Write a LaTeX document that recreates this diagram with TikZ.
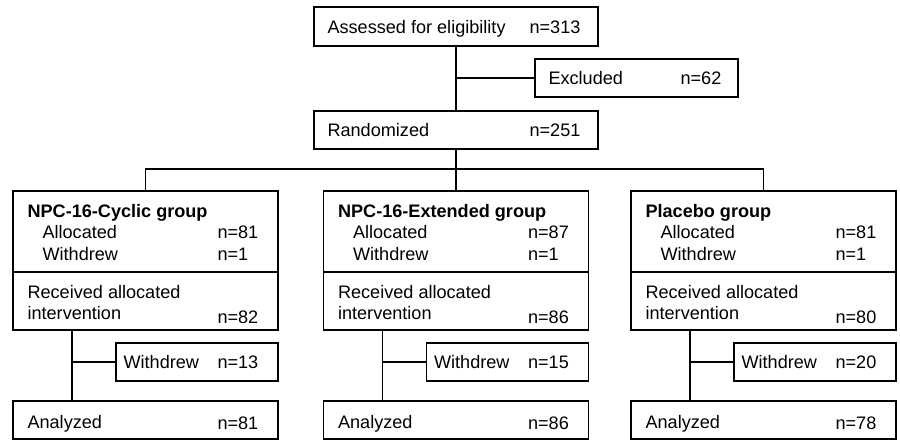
\documentclass[tikz,border=0pt]{standalone}
\usepackage{fontspec}
\setmainfont{Liberation Sans}
\begin{document}
\begin{tikzpicture}[x=1pt,y=-1pt,line width=1.1pt,
  box/.style={draw,inner sep=0pt,outer sep=0pt,anchor=north west},
  txt/.style={inner sep=0pt,anchor=base west},
  every node/.append style={font=\fontsize{18.1}{21}\selectfont}]
\useasboundingbox (0,0) rectangle (900,441);
% enrolment
\node[box,minimum width=284,minimum height=39] (assess) at (314,7) {};
\node[txt] (assess-t) at (327,33.5) {Assessed for eligibility};
\node[txt] (assess-n) at (529,33.5) {n=313};
\node[box,minimum width=203,minimum height=38] (excl) at (535,59) {};
\node[txt] (excl-t) at (548,85) {Excluded};
\node[txt] (excl-n) at (680,85) {n=62};
\node[box,minimum width=284,minimum height=38] (rand) at (314,111) {};
\node[txt] (rand-t) at (327,137) {Randomized};
\node[txt] (rand-n) at (529,137) {n=251};
\draw (assess) -- (rand);
\draw (assess.south |- excl.west) -- (excl.west);
% groups
\foreach \x/\g/\grp/\na/\nr/\nw/\nz in {13/cyc/NPC-16-Cyclic group/81/82/13/81,
    323.5/ext/NPC-16-Extended group/87/86/15/86,
    631/pla/Placebo group/81/80/20/78} {
  \node[box,minimum width=265,minimum height=81] (\g-alloc) at (\x,191) {};
  \node[txt] (\g-head) at (\x+14,217) {\textbf{\grp}};
  \node[txt] (\g-a) at (\x+29,238) {Allocated};
  \node[txt] (\g-an) at (\x+204,238) {n=\na};
  \node[txt] (\g-w) at (\x+29,260) {Withdrew};
  \node[txt] (\g-wn) at (\x+204,260) {n=1};
  \node[box,minimum width=265,minimum height=58] (\g-recv) at (\x,272) {};
  \node[txt] (\g-r1) at (\x+14,298) {Received allocated};
  \node[txt] (\g-r2) at (\x+14,319) {intervention};
  \node[txt] (\g-rn) at (\x+204,323) {n=\nr};
  \node[box,minimum width=162,minimum height=38] (\g-wd) at (\x+103,343) {};
  \node[txt] (\g-wdt) at (\x+110,368) {Withdrew};
  \node[txt] (\g-wdn) at (\x+204,368) {n=\nw};
  \node[box,minimum width=265,minimum height=38] (\g-anal) at (\x,401) {};
  \node[txt] (\g-z) at (\x+14,428) {Analyzed};
  \node[txt] (\g-zn) at (\x+204,429) {n=\nz};
  \coordinate (\g-c) at (\x+59,330);
  \draw (\g-c) -- (\g-c |- \g-anal.north);
  \draw (\g-c |- \g-wd.west) -- (\g-wd.west);
}
\coordinate (split) at (456,169);
\draw (rand.south) -- (ext-alloc.north);
\draw (cyc-alloc.north) |- (split) -| (pla-alloc.north);
\end{tikzpicture}
\end{document}
